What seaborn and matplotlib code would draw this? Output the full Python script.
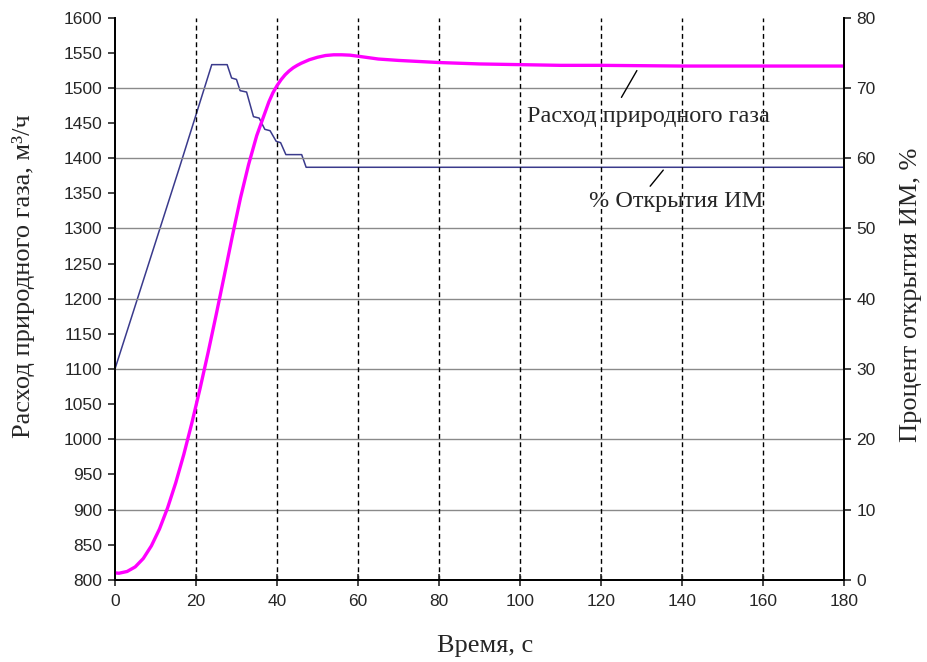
"""
Расход природного газа и процент открытия ИМ — переходный процесс.
"""
import numpy as np
import pandas as pd
import matplotlib
matplotlib.use("Agg")
import matplotlib.pyplot as plt
import seaborn as sns

# ──── data ────
gas_time = [0, 1, 3, 5, 7, 9, 11, 13, 15, 17, 19, 21, 23, 25, 27, 29, 31, 33,
            35, 37, 38, 39, 40, 41, 42, 43, 44, 45, 46, 47, 48, 50, 52, 54,
            56, 58, 60, 65, 70, 75, 80, 90, 100, 110, 120, 140, 160, 180]
gas_flow = [810, 809.5, 812, 818.5, 830.5, 848.5, 872.5, 902.5, 938, 978.5,
            1023.5, 1072, 1123.5, 1177.5, 1233, 1289.5, 1343.5, 1391, 1432,
            1464, 1480, 1493, 1503, 1511.5, 1518.5, 1524, 1528.5, 1532, 1535,
            1537.5, 1540, 1543.5, 1546, 1547, 1547, 1546.5, 1545, 1541, 1539,
            1537.5, 1536, 1534, 1533, 1532, 1532, 1531, 1531, 1531]

valve_time = [0, 16, 23.9, 27.7, 28.8, 30.0, 30.9, 32.5, 34.2, 35.6, 37.0,
              38.3, 39.8, 40.9, 42.2, 46.1, 47.2, 180]
valve_open = [30, 58.8, 73.3, 73.3, 71.4, 71.2, 69.6, 69.4, 65.9, 65.7, 64.1,
              63.9, 62.4, 62.2, 60.5, 60.5, 58.7, 58.7]

x_ticks = list(range(0, 181, 20))
left_ticks = list(range(800, 1601, 50))
right_ticks = list(range(0, 81, 10))

gas_df = pd.DataFrame({"t": gas_time, "flow": gas_flow})
valve_df = pd.DataFrame({"t": valve_time, "valve": valve_open})

MAGENTA = "#FF00FF"
NAVY = "#3A3A8C"
SERIF = ["Liberation Serif", "DejaVu Serif"]
SANS = ["Liberation Sans", "DejaVu Sans"]


def main():
    sns.set_style("ticks")
    plt.rcParams["font.family"] = SANS

    fig = plt.figure(figsize=(9.27, 6.62), dpi=100)
    ax = fig.add_axes([0.124, 0.124, 0.7865, 0.8495])
    ax2 = ax.twinx()

    sns.lineplot(data=valve_df, x="t", y="valve", ax=ax2, color=NAVY,
                 linewidth=1.1, estimator=None, sort=False)
    sns.lineplot(data=gas_df, x="t", y="flow", ax=ax, color=MAGENTA,
                 linewidth=2.4, estimator=None, sort=False)

    # magenta on top of the navy line
    ax.set_zorder(ax2.get_zorder() + 1)
    ax.patch.set_visible(False)

    ax.set_xlim(0, 180)
    ax.set_ylim(800, 1600)
    ax2.set_ylim(0, 80)
    ax.set_xticks(x_ticks)
    ax.set_yticks(left_ticks)
    ax2.set_yticks(right_ticks)

    # grid: solid grey horizontals every 100, dashed black verticals
    for v in range(900, 1600, 100):
        ax.axhline(v, color="#8a8a8a", linewidth=1.0, zorder=0)
    for t in x_ticks[1:]:
        ax.axvline(t, color="black", linewidth=1.0, linestyle=(0, (3.5, 2.5)), zorder=0)

    for a in (ax, ax2):
        a.spines["top"].set_visible(False)
        for s in ("left", "right", "bottom"):
            a.spines[s].set_linewidth(1.3)
            a.spines[s].set_color("black")
    ax.tick_params(axis="x", direction="inout", length=9, width=1.2, labelsize=12.5, pad=6)
    ax.tick_params(axis="y", direction="out", length=5, width=1.2, labelsize=12.5, pad=4)
    ax2.tick_params(axis="y", direction="out", length=5, width=1.2, labelsize=12.5, pad=4)

    ax.set_xlabel("Время, с", fontsize=19, family=SERIF)
    ax.set_ylabel("Расход природного газа, м³/ч", fontsize=19, family=SERIF)
    ax2.set_ylabel("Процент открытия ИМ, %", fontsize=19, family=SERIF)
    ax.xaxis.set_label_coords(0.508, -0.098)
    ax.yaxis.set_label_coords(-0.11, 0.54)
    ax2.yaxis.set_label_coords(1.077, 0.507)

    # labels with leader lines
    ax.annotate("", xy=(129.2, 1528), xytext=(124.7, 1483),
                arrowprops=dict(arrowstyle="-", color="black", lw=1.0))
    ax.text(131.6, 1459, "Расход природного газа", ha="center", va="center",
            fontsize=17.5, family=SERIF)
    ax.annotate("", xy=(135.8, 1386), xytext=(131.7, 1357),
                arrowprops=dict(arrowstyle="-", color="black", lw=1.0))
    ax.text(138.5, 1338, "% Открытия ИМ", ha="center", va="center",
            fontsize=17.5, family=SERIF)

    fig.savefig("out.png", dpi=100)
    plt.close(fig)


if __name__ == "__main__":
    main()
